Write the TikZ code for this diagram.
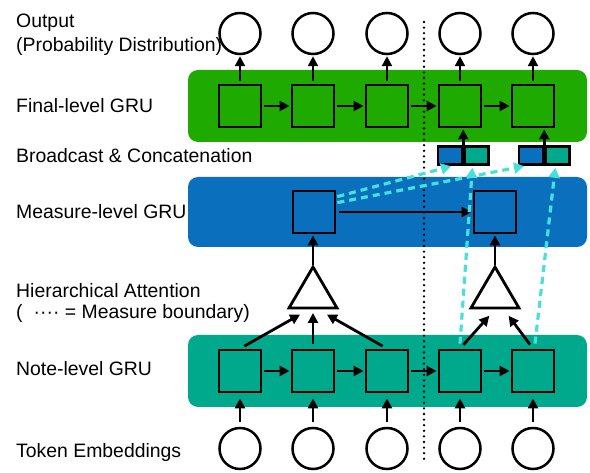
\documentclass[tikz,border=0pt]{standalone}
\usepackage{fontspec}
\setmainfont{Liberation Sans}
\usetikzlibrary{arrows.meta,calc}
\definecolor{fgreen}{RGB}{31,170,0}
\definecolor{mblue}{RGB}{10,112,190}
\definecolor{nteal}{RGB}{0,168,140}
\definecolor{dcyan}{RGB}{72,224,218}
\begin{document}
\begin{tikzpicture}[x=1pt,y=-1pt,
  band/.style={rounded corners=10pt, inner sep=0pt, minimum width=399pt},
  cell/.style={draw=black, line width=2.8pt, minimum size=42pt, inner sep=0pt},
  circ/.style={circle, draw=black, line width=2.5pt, minimum size=41pt, inner sep=0pt},
  half/.style={draw=black, line width=2.5pt, minimum width=24pt, minimum height=18pt, inner sep=0pt},
  arr/.style={line width=2.8pt, -{Triangle[length=10pt,width=10pt]}, shorten <=3pt, shorten >=1pt},
  cyarr/.style={draw=dcyan, line width=3.2pt, dash pattern=on 7pt off 5pt, -{Triangle[length=10pt,width=11pt]}, shorten >=2pt},
  lbl/.style={anchor=base west, inner sep=0pt, font=\fontsize{19.4}{22}\selectfont},
  tri/.style={draw=black, line width=2.8pt, fill=white, line join=miter}
]
\useasboundingbox (0,0) rectangle (590,473);

% labels
\node[lbl] (lout) at (16,28) {Output};
\node[lbl] (lprob) at (16,52) {(Probability Distribution)};
\node[lbl] (lfin) at (16,113) {Final-level GRU};
\node[lbl] (lbro) at (16,163) {Broadcast \& Concatenation};
\node[lbl] (lmea) at (16,218.5) {Measure-level GRU};
\node[lbl] (lhie) at (16,298) {Hierarchical Attention};
\node[lbl] (lbou) at (16,319) {(\hspace{11pt}····\ = Measure boundary)};
\node[lbl] (lnot) at (16,376) {Note-level GRU};
\node[lbl] (ltok) at (16,457.5) {Token Embeddings};

% bands
\node[band, fill=fgreen, minimum height=72pt] (fband) at (387.5,106) {};
\node[band, fill=mblue, minimum height=70pt] (mband) at (387.5,212) {};
\node[band, fill=nteal, minimum height=72pt] (nband) at (387.5,371) {};

% measure boundary
\coordinate (dtop) at (424,22);
\coordinate (dbot) at (424,464);
\draw[line width=2.6pt, dash pattern=on 0pt off 5.6pt, line cap=round] (dtop) -- (dbot);

% columns
\foreach \i/\x in {1/240,2/313,3/387,4/460,5/533}{
  \node[circ] (o\i) at (\x,33.5) {};
  \node[cell] (f\i) at (\x,106) {};
  \node[cell] (n\i) at (\x,371) {};
  \node[circ] (i\i) at (\x,448.5) {};
  \draw[arr] (f\i.north) -- (o\i.south);
  \draw[arr, shorten <=5pt, shorten >=5pt] (i\i.north) -- (n\i.south);
}
\foreach \a/\b in {1/2,2/3,3/4,4/5}{
  \draw[arr, shorten <=2pt] (f\a.east) -- (f\b.west);
  \draw[arr, shorten <=2pt] (n\a.east) -- (n\b.west);
}

% measure cells
\node[cell] (m1) at (314,212) {};
\node[cell] (m2) at (495,212) {};
\draw[arr] (m1.east) -- (m2.west);

% broadcast boxes
\node[half, fill=mblue] (b1l) at (450,155.5) {};
\node[half, fill=nteal, anchor=west] (b1r) at (b1l.east) {};
\node[half, fill=mblue] (b2l) at (531,155.5) {};
\node[half, fill=nteal, anchor=west] (b2r) at (b2l.east) {};
\draw[arr, shorten <=0pt] (b1l.north east) -- (b1l.north east |- f4.south);
\draw[arr, shorten <=0pt] (b2l.north east) -- (b2l.north east |- f5.south);

% attention triangles
\coordinate (t1a) at (313,267);
\coordinate (t1l) at (289,308);
\coordinate (t1r) at (337,308);
\coordinate (t2a) at (495,267);
\coordinate (t2l) at (471,308);
\coordinate (t2r) at (519,308);
\draw[tri] (t1a) -- (t1l) -- (t1r) -- cycle;
\draw[tri] (t2a) -- (t2l) -- (t2r) -- cycle;
\coordinate (p11) at (301,314);
\coordinate (p12) at (313,312);
\coordinate (p13) at (326,314);
\coordinate (p21) at (490,315);
\coordinate (p22) at (508,315);
\draw[arr, shorten <=5pt] (n1.north) -- (p11);
\draw[arr, shorten <=5pt] (n2.north) -- (p12);
\draw[arr, shorten <=5pt] (n3.north) -- (p13);
\draw[arr, shorten <=5pt] (n4.north) -- (p21);
\draw[arr, shorten <=5pt] (n5.north) -- (p22);
\draw[arr, shorten <=2pt] (t1a) -- (t1a |- m1.south);
\draw[arr, shorten <=2pt] (t2a) -- (t2a |- m2.south);

% broadcast (dashed) connections
\coordinate (s1) at ($(m1.north east)+(1,7)$);
\coordinate (s2) at ($(m1.north east)+(1,13)$);
\coordinate (e1) at ($(b1l.south)+(3,0)$);
\coordinate (e2) at ($(b2l.south)+(-5,0)$);
\coordinate (e3) at ($(b1r.south)+(-4,0)$);
\coordinate (e4) at ($(b2r.south)+(-2,0)$);
\draw[cyarr] (s1) -- (e1);
\draw[cyarr] (s2) -- (e2);
\draw[cyarr] ($(n4.north)+(0,-5)$) -- (e3);
\draw[cyarr] ($(n5.north)+(2,-5)$) -- (e4);
\end{tikzpicture}
\end{document}
